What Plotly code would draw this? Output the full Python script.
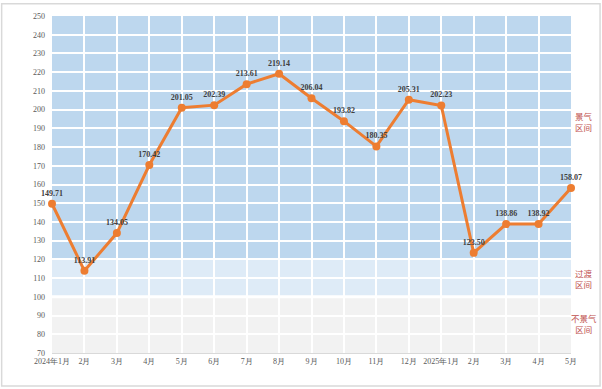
import plotly.graph_objects as go

months = ["2024年1月", "2月", "3月", "4月", "5月", "6月", "7月", "8月", "9月",
          "10月", "11月", "12月", "2025年1月", "2月", "3月", "4月", "5月"]
values = [149.71, 113.91, 134.05, 170.42, 201.05, 202.39, 213.61, 219.14, 206.04,
          193.82, 180.35, 205.31, 202.23, 123.50, 138.86, 138.92, 158.07]
zones = [  # (low, high, colour, label, label_y)
    (120, 250, "#BDD7EE", "景气<br>区间", 193),
    (100, 120, "#DEEBF7", "过渡<br>区间", 109),
    (70, 100, "#F2F2F2", "不景气<br>区间", 85),
]
y_ticks = list(range(70, 251, 10))

x = list(range(len(months)))
serif = "Liberation Serif"

fig = go.Figure()
fig.add_trace(go.Scatter(
    x=x, y=values, mode="lines+markers+text",
    line=dict(color="#ED7D31", width=3),
    marker=dict(color="#ED7D31", size=8),
    text=[f"{v:.2f}" for v in values],
    textposition="top center",
    textfont=dict(family=serif, size=8, color="#404040", weight="bold"),
    cliponaxis=False,
    hoverinfo="skip",
))

shapes = []
for lo, hi, col, lab, ly in zones:
    shapes.append(dict(type="rect", xref="x", yref="y", x0=x[0], x1=x[-1],
                       y0=lo, y1=hi, fillcolor=col, line=dict(width=0), layer="below"))
    fig.add_annotation(x=1.026, xref="paper", y=ly, yref="y", text=lab,
                       showarrow=False, xanchor="center",
                       font=dict(family=serif + ", Noto Sans CJK SC", size=8.5, color="#C0504D"))
# white separator at 100
shapes.append(dict(type="line", xref="x", yref="y", x0=x[0], x1=x[-1], y0=100, y1=100,
                   line=dict(color="white", width=3), layer="below"))
# outer border
shapes.append(dict(type="rect", xref="paper", yref="paper", x0=-0.097, x1=1.056,
                   y0=-0.098, y1=1.036, line=dict(color="#D9D9D9", width=1.5)))
fig.update_layout(shapes=shapes)

fig.update_xaxes(range=[x[0], x[-1]], tickmode="array", tickvals=x, ticktext=months,
                 showgrid=True, gridcolor="white", gridwidth=1.5,
                 showline=True, linecolor="#D9D9D9", ticks="",
                 tickfont=dict(family=serif, size=8, color="#595959"), zeroline=False)
fig.update_yaxes(range=[70, 250], tickmode="array", tickvals=y_ticks,
                 showgrid=True, gridcolor="white", gridwidth=1.5,
                 ticks="", ticklabelstandoff=6,
                 tickfont=dict(family=serif, size=8, color="#595959"), zeroline=False)

fig.update_layout(
    width=602, height=389,
    margin=dict(l=52, r=31, t=14, b=36),
    plot_bgcolor="white", paper_bgcolor="white",
    showlegend=False,
)
fig.write_html("out.html", config={"displayModeBar": False},
               post_script="document.body.style.margin='0';document.body.style.overflow='hidden';")
